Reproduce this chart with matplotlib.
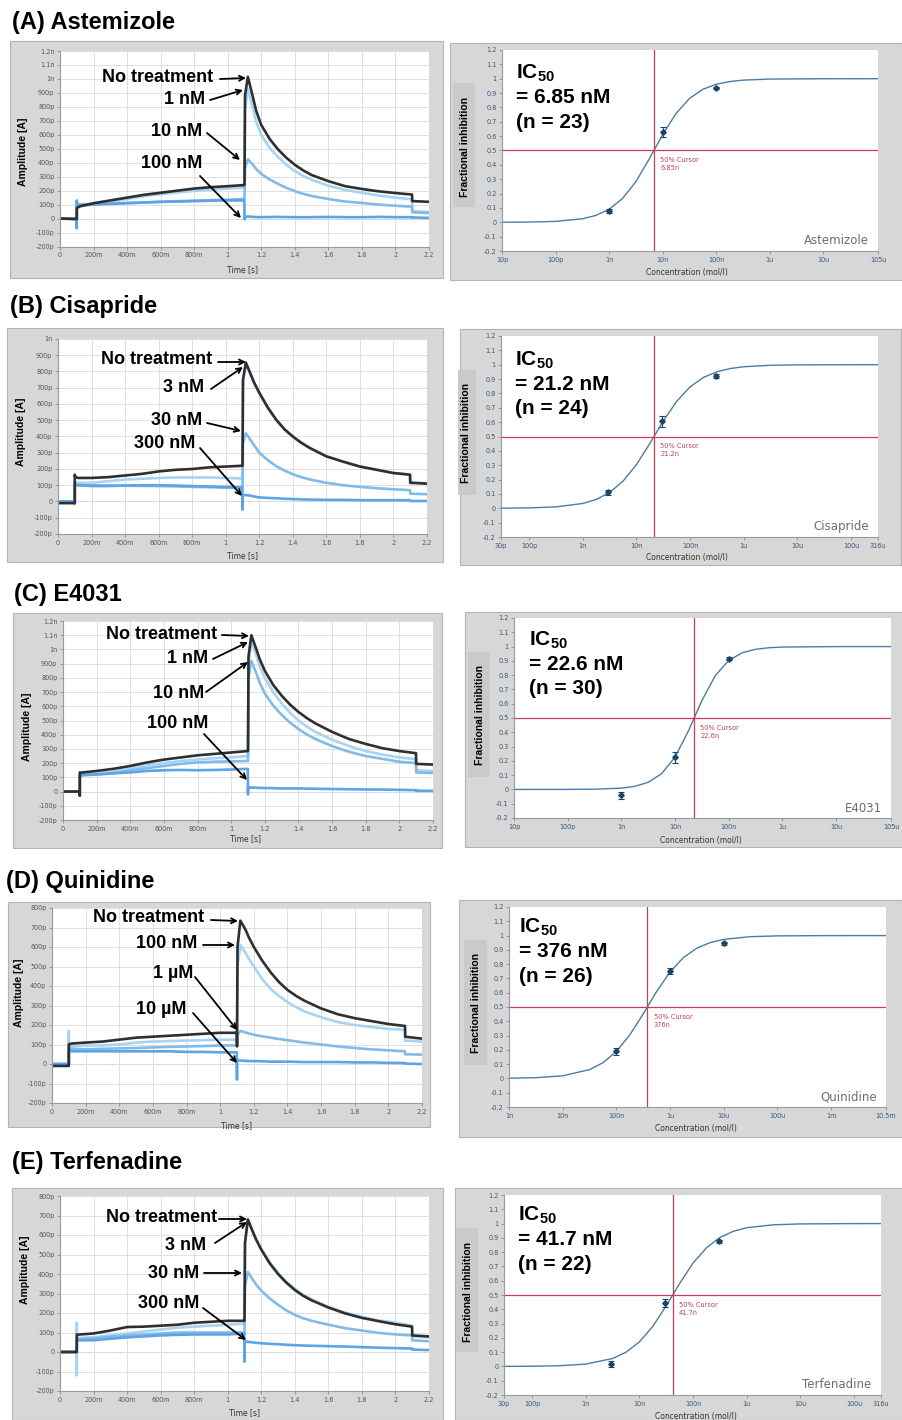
import numpy as np
import matplotlib
matplotlib.use('Agg')
import matplotlib.pyplot as plt
from matplotlib.patches import Rectangle, FancyArrowPatch
from matplotlib.ticker import NullLocator

W, H = 903, 1420

# ---------------- current traces (time in s, amplitude in pA) ----------------
time_s = [0, 0.099, 0.1, 0.1, 0.103, 0.12, 0.2, 0.3, 0.4, 0.5, 0.6, 0.7, 0.8, 0.9, 1.0,
          1.099, 1.1, 1.1, 1.103, 1.12, 1.15, 1.17, 1.2, 1.25, 1.3, 1.35, 1.4, 1.45, 1.5,
          1.6, 1.7, 1.8, 1.9, 2.0, 2.099, 2.1, 2.2]

a_none = [0, -3, -3, 75, 78, 88, 110, 130, 150, 170, 185, 200, 215, 225, 232, 240, 240, 240, 880,
          1015, 870, 770, 670, 570, 495, 435, 385, 345, 312,
          268, 232, 212, 195, 183, 172, 125, 120]
a_1n = [0, -3, -3, 85, 88, 90, 100, 120, 140, 160, 175, 188, 198, 208, 215, 222, 222, 222, 780,
        925, 790, 690, 600, 505, 440, 385, 340, 305, 278,
        235, 205, 185, 165, 150, 138, 52, 48]
a_10n = [0, -3, -3, 90, 95, 100, 105, 108, 112, 115, 120, 125, 128, 132, 135, 140, 140, 140, 360,
         425, 385, 355, 320, 280, 248, 220, 197, 177, 162,
         140, 122, 112, 100, 92, 85, 45, 40]
a_100n = [0, -3, -70, 130, 100, 98, 100, 105, 110, 115, 120, 122, 125, 128, 130, 130, -5, 5, 10,
          15, 12, 11, 10, 11, 12, 11, 10, 10, 10,
          12, 10, 10, 12, 10, 10, 8, 5]

b_none = [-10, -10, -10, 165, 150, 145, 145, 150, 160, 170, 185, 195, 200, 210, 215, 220, 220, 220, 750,
          855, 780, 730, 670, 580, 505, 445, 400, 362, 330,
          278, 245, 215, 195, 175, 165, 115, 110]
b_3n = [0, 0, -20, 120, 118, 115, 115, 125, 135, 140, 145, 148, 148, 148, 145, 142, 142, 142, 740,
        845, 775, 725, 665, 575, 500, 442, 398, 360, 330,
        278, 245, 216, 196, 176, 166, 118, 112]
b_30n = [0, 0, 0, 110, 105, 100, 100, 98, 97, 96, 95, 93, 90, 88, 85, 82, 82, 82, 360,
         420, 375, 345, 300, 255, 218, 190, 168, 150, 136,
         115, 100, 90, 82, 75, 70, 48, 45]
b_300n = [0, 0, 0, 105, 102, 100, 95, 95, 98, 100, 100, 98, 95, 92, 90, 88, -50, 30, 38,
          40, 35, 30, 25, 22, 20, 17, 15, 13, 12,
          10, 10, 8, 8, 8, 8, 3, 3]

c_none = [0, 0, -30, 135, 132, 135, 145, 160, 180, 205, 225, 240, 255, 265, 275, 285, 285, 285, 950,
          1100, 1000, 930, 850, 750, 675, 612, 560, 517, 480,
          420, 370, 335, 305, 285, 270, 195, 190]
c_1n = [0, 0, 0, 120, 120, 125, 125, 140, 160, 185, 200, 215, 225, 235, 240, 250, 250, 250, 900,
        1060, 955, 880, 800, 700, 620, 555, 500, 457, 420,
        365, 320, 285, 260, 240, 228, 150, 145]
c_10n = [0, 0, 0, 115, 115, 118, 120, 130, 150, 165, 180, 195, 205, 210, 212, 215, 215, 215, 800,
         920, 830, 765, 690, 605, 540, 485, 440, 402, 370,
         320, 280, 250, 230, 210, 200, 135, 130]
c_100n = [0, 0, 0, 110, 112, 115, 120, 128, 135, 145, 150, 152, 150, 152, 155, 160, -20, 30, 30,
          28, 27, 26, 25, 24, 22, 22, 22, 21, 20,
          18, 16, 15, 14, 12, 10, 6, 5]

d_none = [-10, -10, -10, 100, 102, 105, 110, 115, 125, 135, 140, 145, 150, 155, 160, 160, 90, 90, 600,
          735, 690, 650, 600, 530, 470, 420, 380, 350, 325,
          285, 255, 235, 220, 205, 195, 140, 130]
d_100n = [0, 0, 170, 90, 90, 90, 95, 95, 100, 110, 115, 118, 120, 122, 125, 125, 125, 125, 500,
          610, 570, 540, 500, 435, 385, 348, 318, 292, 270,
          240, 215, 200, 190, 180, 175, 120, 115]
d_1u = [0, 0, 0, 80, 80, 78, 75, 78, 80, 82, 85, 88, 90, 92, 95, 95, 95, 95, 150,
        170, 162, 157, 150, 142, 135, 128, 122, 116, 110,
        100, 90, 82, 75, 70, 65, 50, 48]
d_10u = [0, 0, 0, 70, 68, 65, 65, 65, 65, 65, 65, 65, 62, 62, 60, 60, -80, 20, 20,
         18, 16, 15, 15, 14, 12, 12, 12, 11, 10,
         10, 10, 8, 8, 6, 5, 2, 0]

e_none = [0, 0, 0, 90, 88, 90, 95, 110, 128, 130, 135, 140, 150, 155, 160, 160, 160, 160, 560,
          680, 615, 575, 525, 455, 400, 355, 318, 288, 265,
          228, 198, 175, 158, 142, 130, 85, 80]
e_3n = [0, 0, -120, 150, 70, 72, 75, 85, 95, 105, 115, 125, 130, 135, 140, 145, 145, 145, 560,
        675, 620, 580, 530, 460, 405, 360, 324, 294, 270,
        232, 202, 180, 162, 150, 135, 80, 75]
e_30n = [0, 0, 0, 65, 65, 68, 70, 78, 85, 90, 95, 100, 100, 100, 100, 100, 100, 100, 340,
         410, 370, 345, 315, 275, 242, 213, 190, 173, 160,
         140, 122, 110, 98, 90, 85, 60, 55]
e_300n = [0, 0, 0, 60, 60, 60, 60, 68, 75, 80, 85, 88, 90, 90, 90, 95, -50, 55, 55,
          52, 49, 47, 45, 42, 40, 37, 35, 33, 32,
          30, 28, 25, 22, 20, 18, 12, 10]

traces = [[a_none, a_1n, a_10n, a_100n],
          [b_none, b_3n, b_30n, b_300n],
          [c_none, c_1n, c_10n, c_100n],
          [d_none, d_100n, d_1u, d_10u],
          [e_none, e_3n, e_30n, e_300n]]

titles = ['(A) Astemizole', '(B) Cisapride', '(C) E4031', '(D) Quinidine', '(E) Terfenadine']
drugs = ['Astemizole', 'Cisapride', 'E4031', 'Quinidine', 'Terfenadine']
trace_labels = [['No treatment', '1 nM', '10 nM', '100 nM'],
                ['No treatment', '3 nM', '30 nM', '300 nM'],
                ['No treatment', '1 nM', '10 nM', '100 nM'],
                ['No treatment', '100 nM', '1 µM', '10 µM'],
                ['No treatment', '3 nM', '30 nM', '300 nM']]
amp_top = [1200, 1000, 1200, 800, 800]
time_ticks = [0, 0.2, 0.4, 0.6, 0.8, 1.0, 1.2, 1.4, 1.6, 1.8, 2.0, 2.2]
time_labels = ['0', '200m', '400m', '600m', '800m', '1', '1.2', '1.4', '1.6', '1.8', '2', '2.2']

# ---------------- concentration-response ----------------
dose_conc = [[1e-9, 1e-8, 1e-7], [3e-9, 3e-8, 3e-7], [1e-9, 1e-8, 1e-7],
             [1e-7, 1e-6, 1e-5], [3e-9, 3e-8, 3e-7]]
dose_mean = [[0.08, 0.63, 0.935], [0.11, 0.605, 0.92], [-0.04, 0.225, 0.915],
             [0.19, 0.75, 0.945], [0.015, 0.445, 0.875]]
dose_err = [[0.015, 0.035, 0.01], [0.02, 0.04, 0.015], [0.025, 0.04, 0.01],
            [0.025, 0.02, 0.01], [0.02, 0.03, 0.01]]

fit_a_x = [1e-11, 3.16e-11, 1e-10, 3.16e-10, 5.62e-10, 1e-9, 1.78e-9, 3.16e-9, 5.62e-9, 1e-8,
           1.78e-8, 3.16e-8, 5.62e-8, 1e-7, 1.78e-7, 3.16e-7, 1e-6, 1e-5, 1.05e-4]
fit_a_y = [0.0004, 0.0016, 0.0062, 0.0243, 0.0474, 0.0903, 0.1655, 0.283, 0.441, 0.611,
           0.758, 0.862, 0.926, 0.9615, 0.980, 0.990, 0.9975, 0.9998, 1.0]
fit_b_x = [3e-11, 1e-10, 3.16e-10, 1e-9, 1.78e-9, 3.16e-9, 5.62e-9, 1e-8, 1.78e-8, 3.16e-8,
           5.62e-8, 1e-7, 1.78e-7, 3.16e-7, 5.62e-7, 1e-6, 3.16e-6, 1e-5, 1e-4, 3.16e-4]
fit_b_y = [0.0007, 0.0028, 0.0097, 0.0336, 0.0614, 0.1098, 0.1886, 0.304, 0.452, 0.608,
           0.745, 0.846, 0.912, 0.951, 0.9735, 0.986, 0.996, 0.9989, 0.9999, 1.0]
fit_c_x = [1e-11, 1e-10, 3.16e-10, 1e-9, 1.78e-9, 3.16e-9, 5.62e-9, 1e-8, 1.78e-8, 3.16e-8,
           5.62e-8, 1e-7, 1.78e-7, 3.16e-7, 5.62e-7, 1e-6, 1e-5, 1.05e-4]
fit_c_y = [0.0, 0.0003, 0.0017, 0.0092, 0.0216, 0.0498, 0.1105, 0.227, 0.411, 0.623,
           0.797, 0.903, 0.957, 0.981, 0.992, 0.9966, 0.9999, 1.0]
fit_d_x = [1e-9, 3.16e-9, 1e-8, 3.16e-8, 5.62e-8, 1e-7, 1.78e-7, 3.16e-7, 5.62e-7, 1e-6,
           1.78e-6, 3.16e-6, 5.62e-6, 1e-5, 3.16e-5, 1e-4, 1e-3, 1.05e-2]
fit_d_y = [0.0015, 0.0052, 0.0182, 0.0616, 0.110, 0.189, 0.305, 0.452, 0.609, 0.746,
           0.847, 0.912, 0.951, 0.9736, 0.9924, 0.9979, 0.9998, 1.0]
fit_e_x = [3e-11, 1e-10, 3.16e-10, 1e-9, 3.16e-9, 5.62e-9, 1e-8, 1.78e-8, 3.16e-8, 5.62e-8,
           1e-7, 1.78e-7, 3.16e-7, 5.62e-7, 1e-6, 3.16e-6, 1e-5, 1e-4, 3.16e-4]
fit_e_y = [0.0003, 0.0013, 0.0046, 0.0163, 0.0554, 0.0994, 0.172, 0.281, 0.425, 0.581,
           0.724, 0.831, 0.903, 0.946, 0.971, 0.9915, 0.9976, 0.9998, 1.0]
fit_x = [fit_a_x, fit_b_x, fit_c_x, fit_d_x, fit_e_x]
fit_y = [fit_a_y, fit_b_y, fit_c_y, fit_d_y, fit_e_y]

ic50 = [6.85e-9, 21.2e-9, 22.6e-9, 376e-9, 41.7e-9]
ic50_short = ['6.85n', '21.2n', '22.6n', '376n', '41.7n']
ic50_text = ['= 6.85 nM', '= 21.2 nM', '= 22.6 nM', '= 376 nM', '= 41.7 nM']
n_cells = [23, 24, 30, 26, 22]

conc_ticks_a = [1e-11, 1e-10, 1e-9, 1e-8, 1e-7, 1e-6, 1e-5, 1.05e-4]
conc_labels_a = ['10p', '100p', '1n', '10n', '100n', '1u', '10u', '105u']
conc_ticks_b = [3e-11, 1e-10, 1e-9, 1e-8, 1e-7, 1e-6, 1e-5, 1e-4, 3.16e-4]
conc_labels_b = ['30p', '100p', '1n', '10n', '100n', '1u', '10u', '100u', '316u']
conc_ticks_d = [1e-9, 1e-8, 1e-7, 1e-6, 1e-5, 1e-4, 1e-3, 1.05e-2]
conc_labels_d = ['1n', '10n', '100n', '1u', '10u', '100u', '1m', '10.5m']
conc_ticks = [conc_ticks_a, conc_ticks_b, conc_ticks_a, conc_ticks_d, conc_ticks_b]
conc_labels = [conc_labels_a, conc_labels_b, conc_labels_a, conc_labels_d, conc_labels_b]
frac_ticks = [-0.2, -0.1, 0, 0.1, 0.2, 0.3, 0.4, 0.5, 0.6, 0.7, 0.8, 0.9, 1.0, 1.1, 1.2]

# ---------------- layout (reference pixels: left, top, right, bottom) ----------------
title_xy = [(12, 22), (10, 306), (14, 594), (6, 882), (12, 1162)]
left_frame = [(10, 41, 443, 278), (7, 328, 443, 562), (13, 613, 442, 848),
              (8, 902, 430, 1127), (12, 1188, 443, 1420)]
left_box = [(60, 51, 429, 246.5), (58, 339, 427, 534), (63, 621, 433, 820),
            (52, 908, 422, 1103), (60, 1196, 429, 1391)]
right_frame = [(450, 43, 902, 280), (460, 329, 901, 565), (465, 612, 903, 847),
               (459, 900, 902, 1137), (455, 1188, 903, 1420)]
right_box = [(502, 50, 878, 251), (501, 336, 878, 537), (514, 618, 891, 818),
             (509, 907, 886, 1107), (504, 1195, 881, 1395)]
ylab_box = [(453, 83, 475, 207), (458, 370, 476, 495), (468, 652, 490, 777),
            (464, 940, 487, 1065), (456, 1228, 478, 1352)]
left_ylab = [(23, 152), (21, 432), (27, 727), (19, 993), (25, 1270)]
left_xlab = [(243, 270), (243, 556), (246, 839), (237, 1126), (245, 1413)]
right_ylab = [(465, 147), (466, 433), (480, 715), (476, 1003), (468, 1292)]
right_xlab = [(687, 273), (687, 558), (701, 840), (696, 1128), (696, 1417)]
ic50_xy = [(516, 73), (515, 360), (529, 640), (519, 927), (518, 1215)]

label_pos = [[(213, 77), (205, 100), (202, 131), (202, 163)],
             [(212, 359), (204, 388), (202, 420), (195, 444)],
             [(217, 634), (208, 658), (204, 694), (208, 724)],
             [(204, 918), (197, 944), (193, 974), (187, 1010)],
             [(217, 1217), (206, 1245), (199, 1273), (199, 1303)]]
arrow_pos = [[((220, 79), (246, 78)), ((210, 100), (243, 90)), ((207, 133), (240, 160)), ((200, 176), (241, 218))],
             [((218, 362), (246, 362)), ((211, 389), (243, 367)), ((207, 423), (241, 431)), ((200, 448), (242, 496))],
             [((222, 635), (249, 636)), ((213, 659), (248, 642)), ((206, 692), (248, 662)), ((204, 734), (247, 780))],
             [((211, 920), (238, 921)), ((203, 945), (235, 945)), ((195, 977), (237, 1030)), ((193, 1013), (237, 1063))],
             [((219, 1219), (247, 1219)), ((215, 1243), (247, 1222)), ((204, 1273), (242, 1273)), ((203, 1308), (246, 1340))]]

none_color = '#2f2f2f'
blues = ['#a9d3f3', '#80bbea', '#5ea4e4']
frame_fc = '#d7d7d7'
frame_ec = '#b3b3b3'
red = '#c63d5d'

plt.rcParams['font.family'] = ['Liberation Sans', 'DejaVu Sans']
plt.rcParams['mathtext.fontset'] = 'custom'
plt.rcParams['mathtext.rm'] = 'Liberation Sans:bold'
plt.rcParams['mathtext.it'] = 'Liberation Sans:bold'
plt.rcParams['mathtext.bf'] = 'Liberation Sans:bold'
plt.rcParams['mathtext.default'] = 'rm'


def fxy(x, y):
    return (x / W, 1 - y / H)


def rect(l, t, r, b):
    return [l / W, 1 - b / H, (r - l) / W, (b - t) / H]


def amp_fmt(v):
    if v == 0:
        return '0'
    if abs(v) >= 1000:
        return f'{v / 1000:g}n'
    return f'{v:g}p'


def frac_fmt(v):
    return f'{v:g}' if abs(v) > 1e-9 else '0'


def style_axes(ax, tick_color):
    for s in ['top', 'right']:
        ax.spines[s].set_visible(False)
    for s in ['left', 'bottom']:
        ax.spines[s].set_color('#9a9a9a')
        ax.spines[s].set_linewidth(0.8)
    ax.tick_params(direction='out', length=2.5, width=0.6, color='#8a8a8a',
                   labelsize=4.7, labelcolor=tick_color, pad=1.5)
    for lab in ax.get_xticklabels() + ax.get_yticklabels():
        lab.set_family('DejaVu Sans')


def add_frame(box):
    l, t, r, b = box
    fig.add_artist(Rectangle(fxy(l, b), (r - l) / W, (b - t) / H, transform=fig.transFigure,
                             fc=frame_fc, ec=frame_ec, lw=0.8, zorder=-5))


fig = plt.figure(figsize=(W / 100, H / 100), dpi=100)

for i in range(5):
    # panel title
    fig.text(*fxy(*title_xy[i]), titles[i], fontsize=17, fontweight='bold',
             ha='left', va='center')

    # ---- current traces ----
    add_frame(left_frame[i])
    ax = fig.add_axes(rect(*left_box[i]))
    ax.set_facecolor('white')
    for vals, col in zip(traces[i][1:], blues):
        ax.plot(time_s, vals, color=col, lw=1.9)
    ax.plot(time_s, traces[i][0], color=none_color, lw=1.9)
    ax.axhline(0, color='#9a9a9a', ls=':', lw=0.7, zorder=0.5)
    ax.set_xlim(0, 2.2)
    ax.set_ylim(-200, amp_top[i])
    ax.set_xticks(time_ticks)
    ax.set_xticklabels(time_labels)
    yt = list(range(-200, amp_top[i] + 1, 100))
    ax.set_yticks(yt)
    ax.set_yticklabels([amp_fmt(v) for v in yt])
    ax.grid(True, color='#dadada', lw=0.6)
    ax.set_axisbelow(True)
    style_axes(ax, '#555555')
    fig.text(*fxy(*left_ylab[i]), 'Amplitude [A]', rotation=90, fontsize=7.5,
             fontweight='bold', ha='center', va='center')
    fig.text(*fxy(*left_xlab[i]), 'Time [s]', fontsize=5.5, family='DejaVu Sans',
             color='#333333', ha='center', va='center')

    for (lab, (lx, ly)), (tail, tip) in zip(zip(trace_labels[i], label_pos[i]), arrow_pos[i]):
        fig.text(*fxy(lx, ly), lab, fontsize=13, fontweight='bold', ha='right', va='center')
        fig.add_artist(FancyArrowPatch(fxy(*tail), fxy(*tip), transform=fig.transFigure,
                                       arrowstyle='->', mutation_scale=9, lw=1.3,
                                       color='black', shrinkA=0, shrinkB=0))

    # ---- concentration-response ----
    add_frame(right_frame[i])
    l, t, r, b = ylab_box[i]
    fig.add_artist(Rectangle(fxy(l, b), (r - l) / W, (b - t) / H, transform=fig.transFigure,
                             fc='#cacaca', ec='none', zorder=-4))
    ax2 = fig.add_axes(rect(*right_box[i]))
    ax2.set_facecolor('white')
    ax2.set_xscale('log')
    ax2.plot(fit_x[i], fit_y[i], color='#4b7ca4', lw=1.0)
    ax2.errorbar(dose_conc[i], dose_mean[i], yerr=dose_err[i], fmt='D', ms=2.8,
                 color='#1e4463', ecolor='#1e4463', elinewidth=0.8, capsize=2.5, capthick=0.8)
    ax2.axhline(0.5, color=red, lw=0.9)
    ax2.axvline(ic50[i], color=red, lw=0.9)
    ax2.annotate('50% Cursor\n' + ic50_short[i], xy=(ic50[i], 0.5), xytext=(4.5, -5),
                 textcoords='offset points', fontsize=4.8, color=red, family='DejaVu Sans',
                 ha='left', va='top', linespacing=1.4)
    ax2.set_xlim(conc_ticks[i][0], conc_ticks[i][-1])
    ax2.set_ylim(-0.2, 1.2)
    ax2.set_xticks(conc_ticks[i])
    ax2.set_xticklabels(conc_labels[i])
    ax2.xaxis.set_minor_locator(NullLocator())
    ax2.set_yticks(frac_ticks)
    ax2.set_yticklabels([frac_fmt(v) for v in frac_ticks])
    style_axes(ax2, '#34597c')
    ax2.text(0.975, 0.05, drugs[i], transform=ax2.transAxes, ha='right', va='center',
             fontsize=8.5, color='#6e6e6e', family='DejaVu Sans')
    fig.text(*fxy(*right_ylab[i]), 'Fractional inhibition', rotation=90, fontsize=7.5,
             fontweight='bold', ha='center', va='center')
    fig.text(*fxy(*right_xlab[i]), 'Concentration (mol/l)', fontsize=5.5, family='DejaVu Sans',
             color='#333333', ha='center', va='center')

    x0, y0 = ic50_xy[i]
    fig.text(*fxy(x0, y0), r'IC$_{50}$', fontsize=15, fontweight='bold', ha='left', va='center')
    fig.text(*fxy(x0, y0 + 24.5), ic50_text[i], fontsize=15, fontweight='bold', ha='left', va='center')
    fig.text(*fxy(x0, y0 + 49), f'(n = {n_cells[i]})', fontsize=15, fontweight='bold',
             ha='left', va='center')

fig.savefig('out.png', dpi=100)
